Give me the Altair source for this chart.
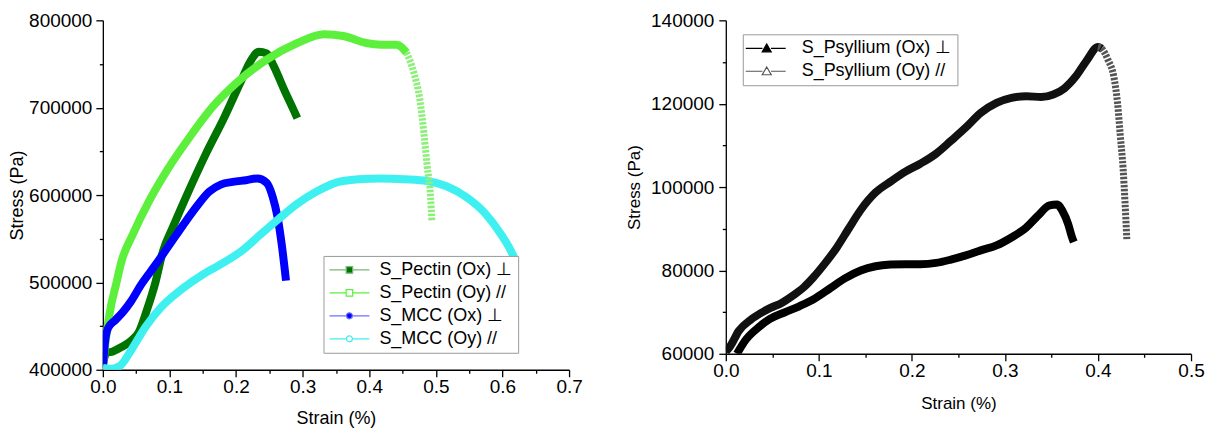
import altair as alt
import pandas as pd

# ---------------- Left panel: Pectin & MCC ----------------
left_names = ["S_Pectin (Ox) ⊥", "S_Pectin (Oy) //", "S_MCC (Ox) ⊥", "S_MCC (Oy) //"]

pectin_ox_strain = [0.000, 0.005, 0.015, 0.028, 0.042, 0.054, 0.066, 0.079, 0.090, 0.105, 0.125, 0.154,
                    0.183, 0.206, 0.223, 0.234, 0.246, 0.257, 0.272, 0.286, 0.292]
pectin_ox_stress = [405000, 419000, 421000, 426000, 433000, 443000, 468000, 500000, 535000, 563000, 598000,
                    646000, 690000, 728000, 755000, 764000, 762000, 747000, 721000, 698000, 688000]

pectin_oy_strain = [0.000, 0.004, 0.008, 0.013, 0.019, 0.028, 0.045, 0.068, 0.097, 0.131, 0.166, 0.200, 0.246,
                    0.292, 0.332, 0.361, 0.395, 0.418, 0.441, 0.456, 0.467, 0.476, 0.482, 0.487, 0.492, 0.494]
pectin_oy_stress = [402000, 432000, 454000, 476000, 495000, 524000, 555000, 591000, 629000, 667000, 702000,
                    728000, 755000, 774000, 784000, 782000, 774000, 772000, 772000, 763000, 740000, 709000,
                    671000, 633000, 598000, 570000]

mcc_ox_strain = [0.000, 0.003, 0.008, 0.019, 0.030, 0.042, 0.058, 0.079, 0.100, 0.120, 0.140, 0.160, 0.177,
                 0.195, 0.215, 0.232, 0.246, 0.255, 0.262, 0.269, 0.275]
mcc_ox_stress = [402000, 430000, 448000, 457000, 466000, 478000, 498000, 520000, 543000, 565000, 586000,
                 604000, 612000, 615000, 617000, 619000, 614000, 598000, 576000, 541000, 502000]

mcc_oy_strain = [0.000, 0.012, 0.025, 0.043, 0.064, 0.088, 0.118, 0.150, 0.180, 0.210, 0.234, 0.263, 0.292,
                 0.321, 0.349, 0.384, 0.418, 0.453, 0.487, 0.516, 0.545, 0.574, 0.597, 0.610, 0.619]
mcc_oy_stress = [402000, 401000, 404000, 423000, 449000, 472000, 492000, 509000, 522000, 537000, 553000,
                 572000, 590000, 604000, 614000, 618000, 619000, 618000, 616000, 610000, 598000, 579000,
                 556000, 540000, 526000]

left_line_colors = ["#007300", "#5cf03c", "#0000ff", "#3ff0f0"]
left_legend_stroke = ["#78b878", "#5cf03c", "#7070ff", "#3ff0f0"]
left_legend_fill = ["#007300", "#ffffff", "#0000ff", "#ffffff"]

left_x_ticks = [0.0, 0.05, 0.1, 0.15, 0.2, 0.25, 0.3, 0.35, 0.4, 0.45, 0.5, 0.55, 0.6, 0.65, 0.7]
left_y_ticks = [400000, 450000, 500000, 550000, 600000, 650000, 700000, 750000, 800000]

# ---------------- Right panel: Psyllium ----------------
right_names = ["S_Psyllium (Ox) ⊥", "S_Psyllium (Oy) //"]

psy_ox_strain = [0.012, 0.022, 0.035, 0.047, 0.063, 0.079, 0.096, 0.112, 0.128, 0.145, 0.161, 0.177, 0.193,
                 0.209, 0.226, 0.242, 0.258, 0.274, 0.291, 0.307, 0.323, 0.335, 0.348, 0.356, 0.362, 0.368,
                 0.372, 0.374]
psy_ox_stress = [60000, 63500, 66300, 68300, 69900, 71400, 73300, 75700, 78100, 80000, 81000, 81400, 81500,
                 81500, 81800, 82600, 83600, 84800, 86000, 87900, 90300, 93000, 95600, 95800, 94200, 91100,
                 88000, 86800]

psy_oy_strain = [0.000, 0.005, 0.014, 0.027, 0.038, 0.048, 0.060, 0.073, 0.084, 0.094, 0.107, 0.119, 0.132,
                 0.145, 0.161, 0.177, 0.193, 0.209, 0.226, 0.242, 0.258, 0.274, 0.291, 0.307, 0.323, 0.339,
                 0.352, 0.364, 0.376, 0.388, 0.400, 0.404, 0.411, 0.417, 0.421, 0.424, 0.427, 0.429, 0.431]
psy_oy_stress = [60500, 61900, 65500, 68200, 69800, 71000, 72200, 74100, 76000, 78300, 81800, 85400, 90000,
                 94500, 98700, 101300, 103700, 105600, 108000, 111100, 114300, 117800, 120200, 121400, 121800,
                 121600, 122200, 123700, 126500, 130400, 133600, 133200, 130400, 126500, 120200, 112300,
                 104400, 96600, 87500]

right_line_colors = ["#000000", "#111111"]
right_legend_stroke = ["#000000", "#555555"]
right_legend_fill = ["#000000", "#ffffff"]

right_x_ticks = [0.0, 0.05, 0.1, 0.15, 0.2, 0.25, 0.3, 0.35, 0.4, 0.45, 0.5]
right_y_ticks = [60000, 70000, 80000, 90000, 100000, 110000, 120000, 130000, 140000]

FONT = "Liberation Sans"


def frame(names, strains, stresses):
    rows = []
    for n, xs, ys in zip(names, strains, stresses):
        for i, (a, b) in enumerate(zip(xs, ys)):
            rows.append({"series": n, "strain": a, "stress": b, "idx": i})
    return pd.DataFrame(rows)


df_left = frame(left_names,
                [pectin_ox_strain, pectin_oy_strain, mcc_ox_strain, mcc_oy_strain],
                [pectin_ox_stress, pectin_oy_stress, mcc_ox_stress, mcc_oy_stress])
df_right = frame(right_names, [psy_ox_strain, psy_oy_strain], [psy_ox_stress, psy_oy_stress])

# legend symbols: line with marker in the middle (units of 5 px for size 100)
sq = "M-1.6,0H1.75M3.05,0H6.4M1.75,-0.65H3.05V0.65H1.75Z"
ci = "M-1.6,0H1.8M3.0,0H6.4M1.8,0A0.6,0.6 0 1,0 3.0,0A0.6,0.6 0 1,0 1.8,0Z"
tri = "M-2.2,0H1.15M2.85,0H5.8M2,-0.85L2.9,0.7H1.1Z"


def axis_x(ticks, title, tsize, tpad):
    test = "abs(datum.value*10 - round(datum.value*10)) < 0.000001"
    return alt.Axis(values=ticks, title=title, grid=False,
                    labelExpr=f"{test} ? format(datum.value, '.1f') : ''",
                    tickSize={"condition": {"test": test, "value": 7}, "value": 3.5},
                    labelPadding=1, titlePadding=tpad, titleFontSize=tsize, labelFlush=False)


def axis_y(ticks, title, step, tsize, lpad, tpad):
    test = f"datum.value % {step} == 0"
    return alt.Axis(values=ticks, title=title, grid=False,
                    labelExpr=f"{test} ? format(datum.value, 'd') : ''",
                    tickSize={"condition": {"test": test, "value": 7}, "value": 3.5},
                    labelPadding=lpad, titlePadding=tpad, titleFontSize=tsize, labelFlush=False)


def panel(df, names, line_colors, leg_stroke, leg_fill, shapes, xdom, ydom, xt, yt, ystep,
          w, h, lx, ly, lab_off, tsize, xtpad, ylpad, ytpad, tail_series, tail_from, tail_color):
    x = alt.X("strain:Q", scale=alt.Scale(domain=xdom, nice=False, zero=False),
              axis=axis_x(xt, "Strain (%)", tsize, xtpad))
    y = alt.Y("stress:Q", scale=alt.Scale(domain=ydom, nice=False, zero=False),
              axis=axis_y(yt, "Stress (Pa)", ystep, tsize, ylpad, ytpad))
    # reversed domain for the line colours so this (legend-less) scale is kept apart
    # from the legend scales below
    line_scale = alt.Scale(domain=names[::-1], range=line_colors[::-1])
    in_tail = f"datum.series == '{tail_series}' && datum.strain > {tail_from}"
    lines = alt.Chart(df).transform_filter(f"!({in_tail})").mark_line(
        strokeWidth=8, interpolate="monotone", clip=True, strokeCap="butt", strokeJoin="round"
    ).encode(
        x=x, y=y,
        color=alt.Color("series:N", scale=line_scale, legend=None),
        order="idx:Q",
    )
    tail = alt.Chart(df).transform_filter(
        f"datum.series == '{tail_series}' && datum.strain >= {tail_from - 0.012}"
    ).mark_line(strokeWidth=7, interpolate="monotone", clip=True, color=tail_color,
                strokeDash=[2.5, 1.5]).encode(x=x, y=y, order="idx:Q")
    leg = alt.Legend(title=None, orient="none", legendX=lx, legendY=ly, labelFont=FONT,
                     labelFontSize=18, labelColor="black", strokeColor="#9a9a9a", fillColor="white",
                     padding=5, symbolSize=100, symbolStrokeWidth=1.2, symbolOpacity=1,
                     labelOffset=lab_off, rowPadding=5, labelLimit=400)
    pts = alt.Chart(df).mark_point(opacity=0, clip=True).encode(
        x=x, y=y,
        stroke=alt.Stroke("series:N", scale=alt.Scale(domain=names, range=leg_stroke), legend=leg),
        fill=alt.Fill("series:N", scale=alt.Scale(domain=names, range=leg_fill), legend=leg),
        shape=alt.Shape("series:N", scale=alt.Scale(domain=names, range=shapes), legend=leg),
    )
    return alt.layer(lines, tail, pts).properties(width=w, height=h)


left = panel(df_left, left_names, left_line_colors, left_legend_stroke, left_legend_fill,
             [sq, sq, ci, ci], [0, 0.7], [400000, 800000], left_x_ticks, left_y_ticks, 100000,
             467, 350, 221, 236, 33, 18, 13, 4, 2, left_names[1], 0.46, "#8cf078")
right = panel(df_right, right_names, right_line_colors, right_legend_stroke, right_legend_fill,
              [tri, tri], [0, 0.5], [60000, 140000], right_x_ticks, right_y_ticks, 20000,
              466, 334, 17, 14, 36, 17, 15, 5, 7, right_names[1], 0.408, "#555555")

chart = alt.hconcat(left, right, spacing=42).resolve_scale(
    color="independent", stroke="independent", fill="independent", shape="independent",
    x="independent", y="independent"
).resolve_legend(
    color="independent", stroke="independent", fill="independent", shape="independent"
).configure(
    padding={"left": 0, "top": 3, "right": 0, "bottom": 0}
).configure_view(stroke=None).configure_axis(
    domainColor="black", domainWidth=1.3, tickColor="black", tickWidth=1.3,
    labelColor="black", labelFont=FONT, labelFontSize=19, titleFont=FONT,
    titleFontWeight="normal", titleColor="black"
)

chart.save("out.html", embed_options={"renderer": "svg", "actions": False})
